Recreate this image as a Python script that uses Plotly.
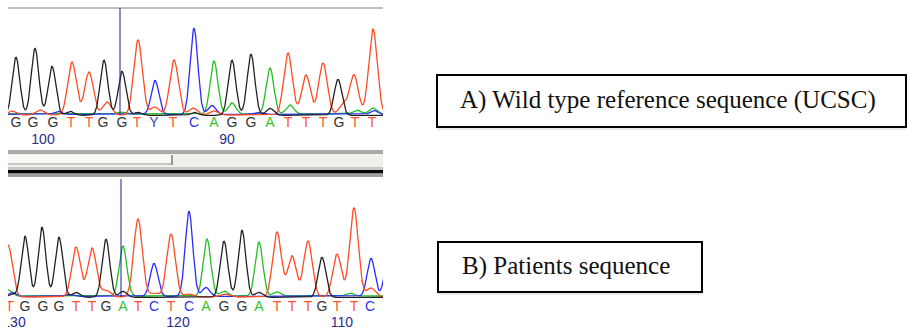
import numpy as np
import plotly.graph_objects as go

W, H = 908, 334

# ---------------- sequence data ----------------
# Panel A: wild type reference trace
TOP_CALLS = list("GGGTTGGTYTCAGGATTTGTT")
TOP_CALL_SCAN = [8, 25, 45, 63, 81, 95, 114, 129, 146, 165, 186, 206, 224, 243, 262, 280, 298, 315, 331, 347, 364]
TOP_POS_LABELS = ["100", "90"]
TOP_POS_SCAN = [35, 219]
TOP_CURSOR = 112

TOP_G = [(8, 58), (27, 67), (44, 49), (96, 55), (114, 44), (224, 55), (243, 61), (330, 36),
         (62, 4), (130, 3), (262, 7), (186, 3)]
TOP_T = [(64, 53), (81, 43), (130, 75), (166, 55), (280, 62), (298, 40), (315, 52), (346, 40), (365, 86),
         (99, 13), (147, 8), (185, 7), (335, 10), (32, 5), (4, 4), (206, 4)]
TOP_C = [(147, 34), (186, 86), (204, 9), (50, 3), (366, 4), (250, 2)]
TOP_A = [(206, 53), (262, 46), (224, 11), (282, 9), (365, 6), (349, 4), (112, 2)]

# Panel B: patient trace
BOT_CALLS = list("TGGGTTGATCTCAGGATTTGTTC")
BOT_CALL_SCAN = [1.5, 17, 35, 51, 68, 84, 98, 115, 130, 146, 163, 181, 198, 216, 234, 251, 269, 284, 300, 314, 329, 346, 362]
BOT_POS_LABELS = ["130", "120", "110"]
BOT_POS_SCAN = [6, 170, 334]
BOT_CURSOR = 113

BOT_G = [(17, 61), (34, 70), (51, 60), (98, 58), (216, 56), (234, 67), (314, 40),
         (68, 5), (115, 6), (251, 5), (4, 3)]
BOT_T = [(0, 52), (68, 50), (84, 49), (130, 78), (163, 63), (269, 65), (284, 41), (300, 56), (329, 43), (346, 89),
         (98, 7), (363, 9), (146, 4), (181, 3), (216, 3)]
BOT_C = [(146, 33), (181, 85), (363, 38), (380, 34), (198, 9), (4, 4), (60, 2)]
BOT_A = [(115, 50), (199, 57), (251, 54), (216, 5), (269, 4), (0, 6), (342, 3)]

LABEL_A = "A) Wild type reference sequence (UCSC)"
LABEL_B = "B) Patients sequence"

# ---------------- styling ----------------
CHANNEL_COLORS = {"A": "#22c022", "C": "#2a2aff", "G": "#222222", "T": "#ff4b24"}
CALL_COLORS = {"A": "#33c233", "C": "#3333ee", "G": "#333333", "T": "#ff5533", "Y": "#4646a8"}
SIGMA = {"A": 3.8, "C": 3.8, "G": 3.8, "T": 4.3}
OFFSET = {"A": 1.0, "C": 0.6, "T": 0.0, "G": -0.3}
NUM_COLOR = "#2b2b8f"


def px_x(p):
    return p / W


def px_y(p):
    return 1 - p / H


def signal(scan, peaks, sigma, offset):
    y = np.full_like(scan, offset)
    for pos, h in peaks:
        y = y + h * np.exp(-(scan - pos) ** 2 / (2 * sigma ** 2))
    return y


scan = np.arange(-6, 382, 0.25)
fig = go.Figure()

panels = [
    ("x", "y", {"A": TOP_A, "C": TOP_C, "T": TOP_T, "G": TOP_G},
     TOP_CALLS, TOP_CALL_SCAN, TOP_POS_LABELS, TOP_POS_SCAN, -8.5, -25.5),
    ("x2", "y2", {"A": BOT_A, "C": BOT_C, "T": BOT_T, "G": BOT_G},
     BOT_CALLS, BOT_CALL_SCAN, BOT_POS_LABELS, BOT_POS_SCAN, -10, -26),
]

for xa, ya, chans, calls, call_scan, pos_labels, pos_scan, call_y, pos_y in panels:
    for base in ["A", "C", "T", "G"]:
        fig.add_trace(go.Scatter(
            x=scan, y=signal(scan, chans[base], SIGMA[base], OFFSET[base]),
            mode="lines", line=dict(color=CHANNEL_COLORS[base], width=1.3),
            xaxis=xa, yaxis=ya, hoverinfo="skip", cliponaxis=True))
    fig.add_trace(go.Scatter(
        x=call_scan, y=[call_y] * len(calls), text=calls, mode="text",
        textfont=dict(family="Liberation Sans", size=14,
                      color=[CALL_COLORS[c] for c in calls]),
        xaxis=xa, yaxis=ya, hoverinfo="skip", cliponaxis=True))
    fig.add_trace(go.Scatter(
        x=pos_scan, y=[pos_y] * len(pos_labels), text=pos_labels, mode="text",
        textfont=dict(family="Liberation Sans", size=14, color=NUM_COLOR),
        xaxis=xa, yaxis=ya, hoverinfo="skip", cliponaxis=True))

axis_common = dict(visible=False, showgrid=False, zeroline=False, fixedrange=True)
fig.update_layout(
    width=W, height=H,
    margin=dict(l=0, r=0, t=0, b=0),
    paper_bgcolor="white", plot_bgcolor="white",
    showlegend=False,
    xaxis=dict(domain=[px_x(8), px_x(383)], range=[0, 375], anchor="y", **axis_common),
    yaxis=dict(domain=[px_y(148), px_y(8)], range=[-33, 107], anchor="x", **axis_common),
    xaxis2=dict(domain=[px_x(8), px_x(383)], range=[0, 375], anchor="y2", **axis_common),
    yaxis2=dict(domain=[px_y(334), px_y(178)], range=[-37, 119], anchor="x2", **axis_common),
)

shapes = []


def rect(x0, y0, x1, y1, fill, line_color=None, lw=0):
    shapes.append(dict(type="rect", xref="paper", yref="paper",
                       x0=px_x(x0), x1=px_x(x1), y0=px_y(y1), y1=px_y(y0),
                       fillcolor=fill, line=dict(color=line_color or fill, width=lw),
                       layer="above"))


def hline(x0, x1, y, color, lw):
    shapes.append(dict(type="line", xref="paper", yref="paper",
                       x0=px_x(x0), x1=px_x(x1), y0=px_y(y), y1=px_y(y),
                       line=dict(color=color, width=lw), layer="above"))


def vline(x, y0, y1, color, lw):
    shapes.append(dict(type="line", xref="paper", yref="paper",
                       x0=px_x(x), x1=px_x(x), y0=px_y(y0), y1=px_y(y1),
                       line=dict(color=color, width=lw), layer="above"))


# viewer frame: top rule, scroll bar and splitter between the two traces
hline(8, 383, 8, "#a8a8a8", 1.5)
rect(8, 150, 383, 154, "#a9a9a9")
rect(8, 154, 383, 167, "#f2f0ea")
rect(8, 155, 172, 164, "#f8f7f3")
hline(8, 172, 164, "#9a9a9a", 1.2)
vline(172, 155, 165, "#7a7a7a", 1.5)
rect(8, 167, 383, 170, "#c8c8c8")
rect(8, 170, 383, 173.5, "#050505")
rect(8, 173.5, 383, 177, "#a0a0a0")

# cursors
shapes.append(dict(type="line", xref="x", yref="y", x0=TOP_CURSOR, x1=TOP_CURSOR, y0=0, y1=107,
                   line=dict(color="#1c1c9c", width=1), layer="above"))
shapes.append(dict(type="line", xref="x2", yref="y2", x0=BOT_CURSOR, x1=BOT_CURSOR, y0=0, y1=118,
                   line=dict(color="#1c1c9c", width=1), layer="above"))

# caption boxes
rect(437, 75, 906, 127, "rgba(0,0,0,0)", "#000000", 2)
hline(437, 906, 129, "#d0d0d0", 1)
rect(438, 242, 702, 292, "rgba(0,0,0,0)", "#000000", 2)
hline(438, 702, 294, "#d0d0d0", 1)

fig.update_layout(shapes=shapes)

fig.add_annotation(x=px_x(458), y=px_y(100), xref="paper", yref="paper",
                   text=LABEL_A, showarrow=False, xanchor="left", yanchor="middle",
                   font=dict(family="Liberation Serif", size=25, color="#111111"))
fig.add_annotation(x=px_x(460), y=px_y(266), xref="paper", yref="paper",
                   text=LABEL_B, showarrow=False, xanchor="left", yanchor="middle",
                   font=dict(family="Liberation Serif", size=25, color="#111111"))

fig.write_html("out.html")
